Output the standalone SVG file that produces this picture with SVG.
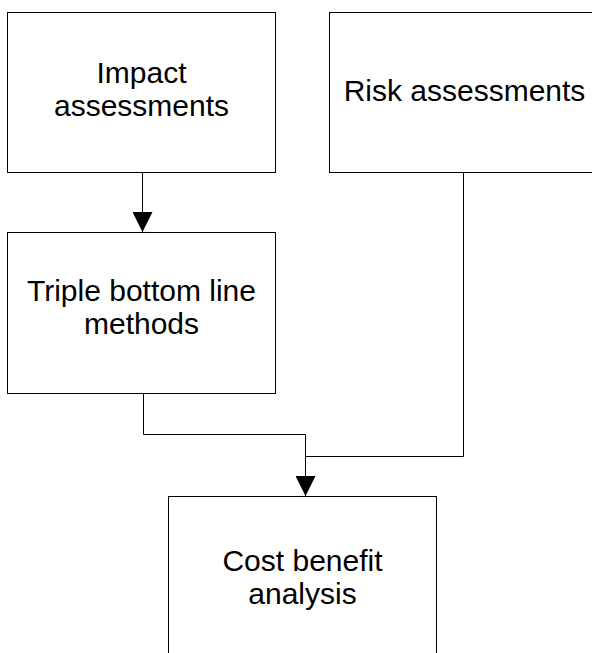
<svg xmlns="http://www.w3.org/2000/svg" width="592" height="653" viewBox="0 0 592 653">
<style>
.box{fill:#fff;stroke:#000;stroke-width:1}
.lbl{font-family:"Liberation Sans",Arial,sans-serif;font-size:30px;fill:#000;text-anchor:middle}
.conn{fill:none;stroke:#000;stroke-width:1}
</style>
<defs>
<marker id="arr" markerWidth="22" markerHeight="20" refX="22" refY="11" orient="auto" markerUnits="userSpaceOnUse" viewBox="0 0 22 22">
<path d="M0,0 L22,11 L0,22 Z" fill="#000"/>
</marker>
</defs>
<rect width="592" height="653" fill="#fff"/>
<g id="impact">
<rect class="box" x="7.5" y="12.5" width="268" height="160"/>
<text class="lbl" x="141.5" y="83">Impact</text>
<text class="lbl" x="141.5" y="116">assessments</text>
</g>
<g id="risk">
<rect class="box" x="329.5" y="12.5" width="280" height="160"/>
<text class="lbl" x="464.5" y="101">Risk assessments</text>
</g>
<g id="triple">
<rect class="box" x="7.5" y="232.5" width="268" height="161"/>
<text class="lbl" x="141.5" y="301">Triple bottom line</text>
<text class="lbl" x="141.5" y="334">methods</text>
</g>
<g id="cba">
<rect class="box" x="168.5" y="496.5" width="268" height="170"/>
<text class="lbl" x="302.5" y="571">Cost benefit</text>
<text class="lbl" x="302.5" y="604">analysis</text>
</g>
<g id="connectors">
<path class="conn" d="M142.5,173 V232" marker-end="url(#arr)"/>
<path class="conn" d="M143.5,394 V434.5 H305.5 V496" marker-end="url(#arr)"/>
<path class="conn" d="M463.5,173 V456.5 H305.5"/>
</g>
</svg>
